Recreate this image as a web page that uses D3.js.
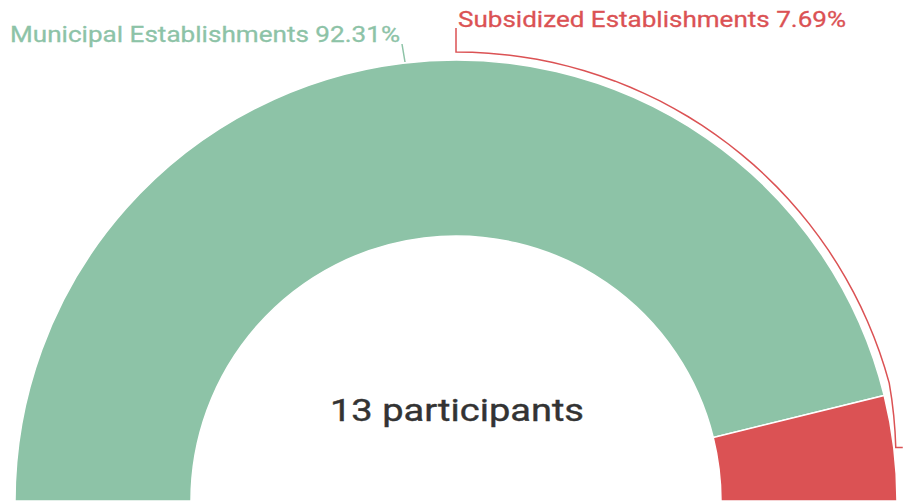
<!DOCTYPE html>
<html>
<head>
<meta charset="utf-8">
<script src="https://cdn.jsdelivr.net/npm/d3@7"></script>
<style>
  body { margin: 0; background: #fff; }
  svg { display: block; font-family: Roboto, "Noto Sans", sans-serif; }
</style>
</head>
<body>
<div id="chart"></div>
<script>
const categories = ["Municipal Establishments", "Subsidized Establishments"];
const counts = [12, 1];
const percentLabels = ["92.31%", "7.69%"];
const colors = ["#8dc3a7", "#db5254"];
const totalLabel = "13 participants";

const width = 903, height = 502;
const cx = 456, cy = 501;
const outerR = 441, innerR = 265;

const svg = d3.select("#chart").append("svg")
    .attr("width", width)
    .attr("height", height);

const g = svg.append("g").attr("transform", `translate(${cx},${cy})`);

const pie = d3.pie()
    .sort(null)
    .startAngle(-Math.PI / 2)
    .endAngle(Math.PI / 2);

const data = pie(counts);

const arc = d3.arc().innerRadius(innerR).outerRadius(outerR);

g.selectAll("path.slice")
    .data(data)
    .enter()
    .append("path")
    .attr("class", "slice")
    .attr("d", arc)
    .attr("fill", (d, i) => colors[i])
    .attr("stroke", "#fff")
    .attr("stroke-width", 1.5);

// the source picture is stretched sideways, so the text is too
g.append("text")
    .attr("x", -126)
    .attr("y", -80)
    .attr("fill", "#333")
    .attr("stroke", "#333")
    .attr("stroke-width", 0.4)
    .attr("textLength", 254)
    .attr("lengthAdjust", "spacingAndGlyphs")
    .style("font-size", "32px")
    .text(totalLabel);

// green label + short leader
g.append("line")
    .attr("x1", -54)
    .attr("y1", -457)
    .attr("x2", -51)
    .attr("y2", -439)
    .attr("stroke", colors[0])
    .attr("stroke-width", 1.5);

g.append("text")
    .attr("x", -446)
    .attr("y", -459)
    .attr("fill", colors[0])
    .attr("stroke", colors[0])
    .attr("stroke-width", 0.3)
    .attr("textLength", 390)
    .attr("lengthAdjust", "spacingAndGlyphs")
    .style("font-size", "22.5px")
    .text(`${categories[0]} ${percentLabels[0]}`);

// red label with curved leader around the arc
const red = data[1];
const mid = (red.startAngle + red.endAngle) / 2;
const pt = (a, r) => [Math.sin(a) * r, -Math.cos(a) * r];
const leadR = outerR + 8;
const start = pt(mid, outerR + 2);
const pts = [[start[0] + 7, start[1]], start];
const steps = 40;
for (let k = 1; k <= steps; k++) {
    const a = mid * (1 - k / steps);
    const r = k < 4 ? outerR + 2 + (leadR - outerR - 2) * k / 4 : leadR;
    pts.push(pt(a, r));
}
pts.push([0, -473]);

g.append("path")
    .attr("d", d3.line()(pts))
    .attr("fill", "none")
    .attr("stroke", colors[1])
    .attr("stroke-width", 1.5);

g.append("text")
    .attr("x", 2)
    .attr("y", -474)
    .attr("fill", colors[1])
    .attr("stroke", colors[1])
    .attr("stroke-width", 0.3)
    .attr("textLength", 388)
    .attr("lengthAdjust", "spacingAndGlyphs")
    .style("font-size", "22.5px")
    .text(`${categories[1]} ${percentLabels[1]}`);
</script>
</body>
</html>
